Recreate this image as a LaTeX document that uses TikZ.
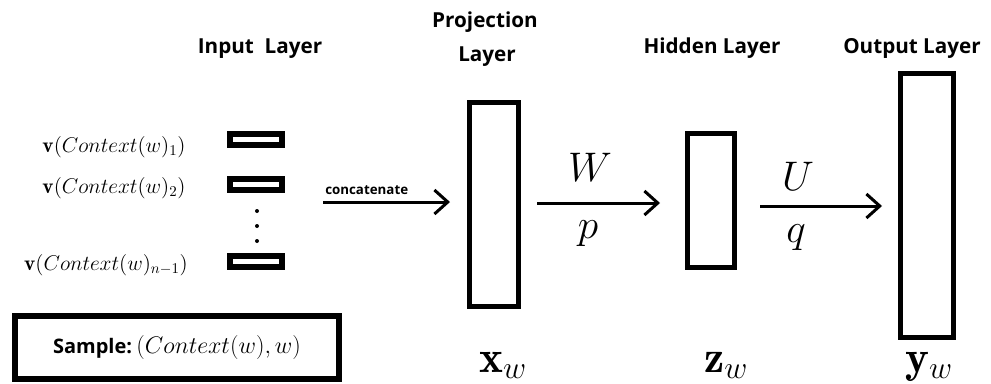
\RequirePackage{fix-cm}
\documentclass[tikz,border=0pt]{standalone}
\usepackage{fontspec}
\newfontfamily\tfont{Open Sans}
\usetikzlibrary{arrows.meta}
\begin{document}
\begin{tikzpicture}[x=0.75pt,y=-0.75pt,
  bigbox/.style={draw,line width=3.75pt,inner sep=0pt},
  smallbox/.style={draw,line width=4.5pt,inner sep=0pt,minimum width=39pt,minimum height=8.25pt},
  title/.style={font=\tfont\bfseries\fontsize{15.5}{18}\selectfont,inner sep=0pt,anchor=base},
  mathlbl/.style={font=\fontsize{16}{19}\selectfont,inner sep=0pt},
  biglbl/.style={font=\fontsize{31}{36}\selectfont,inner sep=0pt},
  botlbl/.style={font=\fontsize{34}{40}\selectfont,inner sep=0pt,anchor=base west},
  cattext/.style={font=\tfont\bfseries\fontsize{10}{12}\selectfont,inner sep=0pt,anchor=base west},
  arr/.style={line width=2.25pt,-{Straight Barb[length=10pt,width=18pt]}},
  dot/.style={fill=black}
]
\useasboundingbox (0,0) rectangle (991,383);
% titles
\node[title] (tin) at (260,53) {Input\ \ Layer};
\node[title] (tproj1) at (485,27) {Projection};
\node[title] (tproj2) at (487,61) {Layer};
\node[title] (thid) at (712,53) {Hidden Layer};
\node[title] (tout) at (912,53) {Output Layer};
% input vectors
\node[mathlbl] (l1) at (114,147) {$\mathbf{v}(Context(w)_1)$};
\node[mathlbl] (l2) at (114,188) {$\mathbf{v}(Context(w)_2)$};
\node[mathlbl] (l3) at (106,265) {$\mathbf{v}(Context(w)_{n-1})$};
\node[smallbox] (b1) at (256,139) {};
\node[smallbox] (b2) at (256,184) {};
\node[smallbox] (b3) at (256,261) {};
\fill[dot] (257,211) circle (2);
\fill[dot] (257,226) circle (2);
\fill[dot] (257,241) circle (2);
% layers
\node[bigbox,minimum width=36.75pt,minimum height=153pt] (proj) at (494,204.5) {};
\node[bigbox,minimum width=35.25pt,minimum height=100.5pt] (hid) at (711,200.5) {};
\node[bigbox,minimum width=39.75pt,minimum height=198pt] (out) at (927,205.5) {};
% arrows
\coordinate (cs) at (323,202);
\coordinate (ce) at (450,202);
\draw[arr] (cs) -- (ce);
\node[cattext] (cat) at (325,194) {concatenate};
\coordinate (ws) at (537,203);
\coordinate (we) at (660,203);
\draw[arr] (ws) -- (we);
\node[biglbl] (W) at (590,167) {$W$};
\node[biglbl] (p) at (588,234) {$p$};
\coordinate (us) at (760,206);
\coordinate (ue) at (882,206);
\draw[arr] (us) -- (ue);
\node[biglbl] (U) at (798,176) {$U$};
\node[biglbl] (q) at (796,238) {$q$};
% bottom labels
\node[botlbl] (xw) at (479,372) {$\mathbf{x}_w$};
\node[botlbl] (zw) at (704,372) {$\mathbf{z}_w$};
\node[botlbl] (yw) at (905,372) {$\mathbf{y}_w$};
% sample
\node[draw,line width=4.5pt,inner sep=0pt,minimum width=243pt,minimum height=47.25pt] (sample) at (177,347.5) {};
\node[inner sep=0pt] (stext) at (177,347) {{\tfont\bfseries\fontsize{15}{18}\selectfont Sample:}\ \fontsize{18}{21}\selectfont$(Context(w),w)$};
\end{tikzpicture}
\end{document}
